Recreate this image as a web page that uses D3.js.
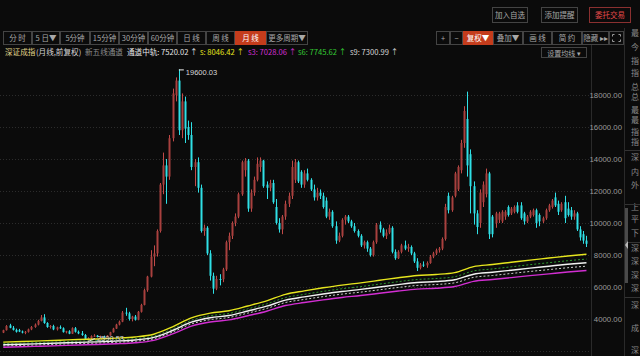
<!DOCTYPE html>
<html>
<head>
<meta charset="utf-8">
<script src="https://cdn.jsdelivr.net/npm/d3@7"></script>
<style>
body{margin:0;background:#0b0b0b;overflow:hidden}
svg{display:block}
text{font-family:"Noto Sans CJK SC","Liberation Sans",sans-serif}
</style>
</head>
<body>
<svg id="chart" width="640" height="356"></svg>
<script>
// 深证成指 月线, 2003-02 .. 2018-08
const startMonth = new Date(2003, 1, 1)

const openVals = [3150,3300,3600,3450,3320,3300,3220,3150,3200,3350,
 3500,3650,3880,4100,3750,3500,3560,3350,3480,3420,
 3180,3230,3080,3420,3200,3100,3000,2760,2800,2930,
 2960,2880,2900,2860,2970,3170,3400,3650,3830,4400,
 4350,4000,4150,3950,4450,4880,5800,6650,7900,8100,
 9500,12400,13600,12900,15300,18000,18900,15800,17600,16000,
 15500,13500,13800,12200,9500,9700,8100,6700,5900,6500,
 6485,7100,8800,9200,10000,10400,11800,13300,13900,10900,
 11900,12700,13500,13900,12400,12200,12500,11000,10000,9600,
 10400,11200,11700,12700,13800,13200,12400,13100,12700,12100,
 11600,11900,11700,11400,10400,10700,9800,8900,9200,10200,
 10400,10100,9800,9500,9200,8600,8800,8400,8000,8800,
 9900,9600,9200,9400,9700,8200,7800,8200,8600,8400,
 8500,8100,7600,7200,7400,7350,7500,7900,8100,8300,
 8400,9000,11700,10800,11700,12100,13300,15000,16500,14300,
 12300,10600,10000,11300,11800,13100,10400,10000,10200,10100,
 10400,11000,10600,10700,11100,11100,10600,10100,10400,10500,
 10800,10500,10100,10300,10800,11000,11600,11200,10800,11300,
 10900,10800,10400,10600,9600,9300,8900]

const highVals = [3330,3620,3700,3560,3400,3380,3280,3250,3400,3560,
 3720,3950,4250,4300,3800,3620,3640,3520,3600,3480,
 3260,3300,3480,3500,3280,3250,3060,2860,2980,3050,
 3000,2960,2960,3000,3200,3450,3700,3900,4500,4700,
 4450,4200,4250,4500,4950,5900,6700,8300,8600,9600,
 12500,14400,14000,15500,18400,19100,19600.03,18100,17900,16400,
 16300,14000,14100,12400,9900,9800,8300,6900,6700,6800,
 7200,8900,9400,10100,10600,11900,13900,14060,14000,12100,
 12900,14100,14100,13950,12600,12700,12700,11500,10300,10500,
 11400,11900,13900,14000,13900,13300,13300,13400,12800,12400,
 12200,12100,11900,11600,10900,10800,10100,9400,10300,10500,
 10500,10200,10000,9600,9300,8900,8900,8500,8900,10000,
 10100,9700,9600,9900,9800,8350,8300,8700,8900,8700,
 8600,8200,7800,7500,7600,7600,8000,8200,8400,8500,
 9100,11200,11900,11700,13200,13600,15200,17300,18211.76,14600,
 12600,10800,12100,12600,13400,13200,10500,10700,10700,10800,
 10800,11100,11000,11100,11300,11300,10700,10500,10800,10900,
 10900,10600,10400,10900,11200,11500,11900,11400,11300,11700,
 11300,11000,10800,10700,9800,9500,9200]

const lowVals = [3120,3280,3420,3280,3150,3180,3100,3050,3150,3300,
 3450,3600,3850,3700,3450,3400,3300,3280,3380,3150,
 3100,3050,3060,3150,3050,2950,2720,2590.53,2700,2880,
 2850,2820,2840,2840,2950,3150,3380,3600,3800,4200,
 3900,3850,3900,3920,4400,4850,5700,6600,7300,7900,
 9400,11800,11200,12700,15100,17600,15500,15300,15000,15200,
 13300,12300,11900,9400,9200,8000,6400,5577,5800,6100,
 6300,7000,8300,9000,9800,10300,11700,12900,10700,10700,
 11700,12600,13200,12200,11500,12000,11200,9900,9400,9300,
 10200,11000,11500,12500,12500,12200,12200,12600,12000,11400,
 11400,11500,10900,10300,10200,9700,8700,8800,9100,9900,
 10000,9700,9400,9100,8500,8400,8200,7900,7900,8700,
 9400,9100,9000,9300,8100,7700,7750,8100,8300,8200,
 8000,7500,7000,7100,7250,7200,7450,7800,8000,8150,
 8300,8900,10600,10700,11600,12000,13100,14700,12900,10600,
 9900,9300,9700,11000,11600,9000,9100,9700,10000,10000,
 10200,10400,10500,10600,10600,10200,9900,10000,10300,10400,
 9700,9800,10000,10200,10700,10900,11000,10500,10700,10000,
 10400,10200,10200,9500,8900,8700,8500]

const closeVals = [3300,3560,3450,3320,3200,3220,3150,3200,3350,3500,
 3650,3880,4100,3750,3500,3560,3350,3480,3420,3180,
 3230,3080,3420,3200,3100,3000,2760,2800,2930,2960,
 2880,2900,2860,2970,3170,3400,3650,3830,4400,4350,
 4000,4150,3950,4450,4880,5800,6650,7900,8100,9500,
 12400,13600,12900,15300,18100,18900,15800,17600,15900,15500,
 13500,13800,12200,9500,9700,8100,6700,5900,6500,6485,
 7100,8800,9200,10000,10400,11800,13800,13900,10900,11900,
 12700,13700,13900,12300,12200,12500,11300,10000,9600,10400,
 11200,11700,13500,13800,12600,12400,13100,12700,12100,11600,
 11900,11700,11000,10400,10700,9800,8900,9200,10200,10400,
 10100,9800,9500,9200,8600,8800,8400,8000,8800,9900,
 9600,9200,9400,9700,8200,7800,8200,8600,8400,8500,
 8100,7600,7200,7400,7350,7500,7900,8100,8300,8400,
 9000,11000,10800,11600,13100,13500,15000,17000,13600,12300,
 10600,9750,11900,12400,13100,9300,9300,10600,10600,10700,
 10700,10500,10900,11000,10700,10300,10100,10400,10700,10800,
 10000,10100,10300,10800,11100,11400,11100,10700,11200,10300,
 10500,10400,10600,9600,9100,8900,8700]

// 新五线通道: 中轨 (read every 6 months) and band multipliers
const midIdx = [0,6,12,18,24,30,36,42,48,54,60,66,72,78,84,90,96,102,108,114,120,126,132,138,144,150,156,162,168,174,180,186]
const midVals = [2390,2420,2460,2500,2540,2570,2620,2690,2850,3280,3800,4080,4220,4500,4800,5180,5380,5560,5720,5850,6000,6150,6280,6340,6450,6800,6920,7050,7180,7300,7420,7520.02]
const bandNames = ["s", "s6", "中轨", "s9", "s3"]
const bandFactors = [1.07, 1.03, 1, 1/1.03, 1/1.07]
const bandColors = ["#e6e61e", "#2f9a2f", "#f2f2f2", "#cfcfcf", "#d22ed2"]
const bandDash = [null, "2,2", null, "2,2", null]

const gridTicks = [2000,4000,6000,8000,10000,12000,14000,16000,18000]
const yTicks = [4000,6000,8000,10000,12000,14000,16000,18000]

const leftTabs = ["分 时","5 日▼","5分钟","15分钟","30分钟","60分钟","日 线","周 线","月 线","更多周期▼"]
const leftTabEdges = [3,32,60,90,119,148,177,206,235,266,308]
const rightTabs = ["+","−","复权▼","叠加▼","画 线","简 约","隐藏 ▸▸",""]
const rightTabEdges = [436,450,463,493,523,552,582,609,624]
const sideChars = ["最","今","指","指","总","总","最","最","指","指","深","内","外","上","平","下","深","深","深","深","深","成","深"]
const sideY = [33,47,61,73,87,97,110,120,132,142,157,172,185,207,219,233,248,261,275,288,305,328,350]

const months = closeVals.map((d, i) => d3.timeFormat("%Y-%m")(d3.timeMonth.offset(startMonth, i)))

const svg = d3.select('#chart')
const W = 640, H = 356

svg.append('rect').attr('width', W).attr('height', H).attr('fill', '#0b0b0b')

const x = d3.scaleBand().domain(d3.range(months.length)).range([1.2, 588.5]).padding(0.3)
const y = d3.scaleLinear().domain([4000, 18000]).range([319, 95])
const cx = i => x(i) + x.bandwidth() / 2

// grid
svg.append('g').selectAll('line').data(gridTicks).enter().append('line')
  .attr('x1', 0).attr('x2', 591)
  .attr('y1', d => Math.round(y(d)) + 0.5).attr('y2', d => Math.round(y(d)) + 0.5)
  .attr('stroke', '#2c2c2c').attr('stroke-dasharray', '1,2')

// separators
svg.append('line').attr('x1', 591.5).attr('x2', 591.5).attr('y1', 45).attr('y2', H).attr('stroke', '#2a2a2a')
svg.append('line').attr('x1', 624.5).attr('x2', 624.5).attr('y1', 28).attr('y2', H).attr('stroke', '#2a2a2a')

// y axis
const axis = d3.axisRight(y).tickValues(yTicks).tickSize(0).tickFormat(d3.format(".2f"))
const ag = svg.append('g').attr('transform', 'translate(592,0)').call(axis)
ag.select('.domain').remove()
ag.selectAll('text').attr('x', 30).attr('text-anchor', 'end')
  .attr('fill', '#9a9a9a').style('font-family', '"Liberation Sans",sans-serif').style('font-size', '7.8px')

// candles
const plot = svg.append('g')
const up = i => closeVals[i] >= openVals[i]
const red = '#c24a48', cyan = '#2fe0e6'
plot.selectAll('line.wick').data(months).enter().append('line')
  .attr('x1', (d, i) => Math.round(cx(i)) + 0.5).attr('x2', (d, i) => Math.round(cx(i)) + 0.5)
  .attr('y1', (d, i) => y(highVals[i])).attr('y2', (d, i) => y(lowVals[i]))
  .attr('stroke', (d, i) => up(i) ? red : cyan).attr('stroke-width', 1)
plot.selectAll('rect.body').data(months).enter().append('rect')
  .attr('x', (d, i) => Math.round(cx(i)) - 0.5)
  .attr('width', 2)
  .attr('y', (d, i) => y(Math.max(openVals[i], closeVals[i])))
  .attr('height', (d, i) => Math.max(1, Math.abs(y(openVals[i]) - y(closeVals[i]))))
  .attr('fill', (d, i) => up(i) ? '#a8403e' : cyan)

// channel lines
const line = d3.line().x((d, k) => cx(midIdx[k])).curve(d3.curveMonotoneX)
bandFactors.forEach((f, b) => {
  svg.append('path')
    .attr('d', line.y(d => y(d * f))(midVals))
    .attr('fill', 'none')
    .attr('stroke', bandColors[b])
    .attr('stroke-width', bandDash[b] ? 1 : 1.4)
    .attr('stroke-dasharray', bandDash[b])
})

// max / min labels
const iMax = d3.maxIndex(highVals), iMin = d3.minIndex(lowVals)
svg.append('line').attr('x1', cx(iMax)).attr('x2', cx(iMax) + 5)
  .attr('y1', y(highVals[iMax]) + 0.5).attr('y2', y(highVals[iMax]) + 0.5).attr('stroke', '#eee')
svg.append('text').attr('x', cx(iMax) + 7).attr('y', y(highVals[iMax]) + 6)
  .attr('fill', '#d8d8d8').style('font-family', '"Liberation Sans",sans-serif').style('font-size', '7.5px')
  .text(d3.format(".2f")(highVals[iMax]))
svg.append('line').attr('x1', cx(iMin)).attr('x2', cx(iMin) + 7)
  .attr('y1', y(lowVals[iMin])).attr('y2', y(lowVals[iMin]) - 3).attr('stroke', '#ddd')
svg.append('text').attr('x', cx(iMin) + 9).attr('y', y(lowVals[iMin]) - 1)
  .attr('fill', '#d8d8d8').style('font-family', '"Liberation Sans",sans-serif').style('font-size', '7.5px')
  .text(d3.format(".2f")(lowVals[iMin]))

// toolbars
function button(x0, x1, y0, y1, label, active, color) {
  const g = svg.append('g')
  g.append('rect').attr('x', x0 + 0.5).attr('y', y0 + 0.5).attr('width', x1 - x0 - 1).attr('height', y1 - y0 - 1)
    .attr('fill', active ? '#c43c1c' : '#0b0b0b').attr('stroke', active ? '#c43c1c' : (color ? '#8a3030' : '#444'))
  g.append('text').attr('x', (x0 + x1) / 2).attr('y', (y0 + y1) / 2 + 3)
    .attr('text-anchor', 'middle').attr('fill', active ? '#fff' : (color || '#a8a8a8'))
    .style('font-size', '7.5px').text(label)
  return g
}
leftTabs.forEach((t, i) => button(leftTabEdges[i], leftTabEdges[i + 1], 31, 45, t, t === "月 线"))
rightTabs.forEach((t, i) => button(rightTabEdges[i], rightTabEdges[i + 1], 31, 45, t, t === "复权▼"))
// fullscreen icon
const fx = 612.5, fy = 34.5
;[[0,0,1,1],[8,0,-1,1],[0,7,1,-1],[8,7,-1,-1]].forEach(c => {
  svg.append('path').attr('d', `M${fx + c[0]},${fy + c[1] + 2 * c[3]}V${fy + c[1]}H${fx + c[0] + 2 * c[2]}`)
    .attr('fill', 'none').attr('stroke', '#999')
})

button(492, 528, 7, 23, "加入自选")
button(541, 578, 7, 23, "添加提醒")
button(589, 631, 7, 23, "委托交易", false, '#e04848')

button(541, 587, 47, 58, "设置均线 ▾").selectAll('text').style('font-size', '7px')

// header legend
const legend = [
  ["深证成指", 5, "#e2d68c"], ["(月线,前复权)", 36, "#d4d4d4"], ["新五线通道", 85, "#8c8c8c"],
  ["通道中轨:", 127, "#e6e6e6"], [d3.format(".2f")(midVals[midVals.length - 1]) + " ↑", 161, "#e6e6e6"]
]
const bandLegendX = {s: 200, s3: 248, s6: 298, s9: 350}
;["s", "s3", "s6", "s9"].forEach(n => {
  const b = bandNames.indexOf(n)
  legend.push([n + ": " + d3.format(".2f")(midVals[midVals.length - 1] * bandFactors[b]) + " ↑", bandLegendX[n],
    n === "s6" ? "#34c834" : (n === "s9" ? "#d4d4d4" : bandColors[b])])
})
svg.append('g').selectAll('text').data(legend).enter().append('text')
  .attr('x', d => d[1]).attr('y', 55).attr('fill', d => d[2])
  .style('font-size', '7.6px').text(d => d[0])

// right side strip
svg.append('g').selectAll('text').data(sideChars).enter().append('text')
  .attr('x', 631).attr('y', (d, i) => sideY[i] + 3).attr('fill', '#8a8a8a')
  .style('font-size', '8px').text(d => d)
;[150, 204, 242, 297].forEach(v => svg.append('line').attr('x1', 625).attr('x2', 640)
  .attr('y1', v + 0.5).attr('y2', v + 0.5).attr('stroke', '#333'))
svg.append('rect').attr('x', 625).attr('y', 208).attr('width', 3).attr('height', 75).attr('fill', '#4a4a4a')
svg.append('path').attr('d', 'M628,241L625,245L628,249Z').attr('fill', '#bbb')
</script>
</body>
</html>
